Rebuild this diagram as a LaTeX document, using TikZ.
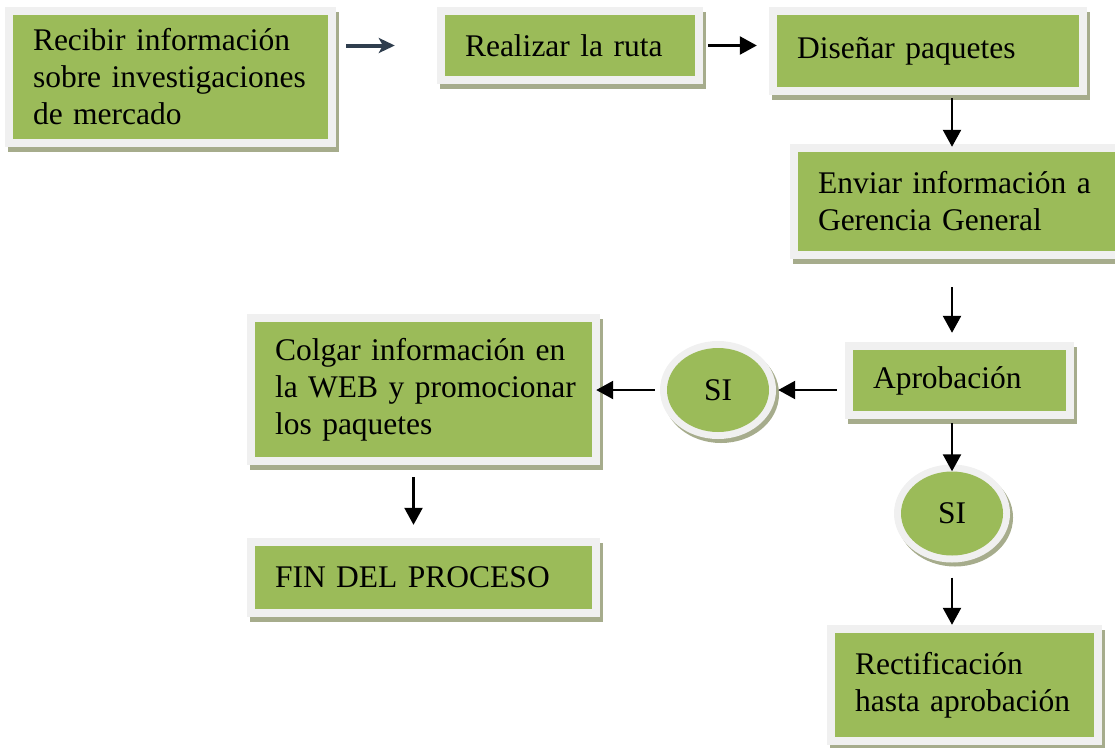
\documentclass[tikz,border=0pt]{standalone}
\usepackage{fontspec}
\setmainfont{Liberation Serif}
\usetikzlibrary{arrows.meta,shapes.geometric,shadows}

\definecolor{boxgreen}{HTML}{9BBB59}
\definecolor{framegray}{HTML}{F0F0F0}
\definecolor{shadowgray}{RGB}{166,172,140}
\definecolor{slate}{HTML}{2F3E4E}

\begin{document}
\begin{tikzpicture}[x=1pt, y=-1pt, >={Triangle[length=17pt,width=18pt]},
    every node/.style={font=\fontsize{31.5}{37}\selectfont},
    box/.style 2 args={rectangle, fill=boxgreen, align=left,
      inner xsep=20pt, inner ysep=0pt, text width=#1-40pt, minimum height=#2,
      drop shadow={shadow xshift=3pt, shadow yshift=-5pt, opacity=1,
        fill=shadowgray, draw=shadowgray, line width=16pt},
      preaction={draw=framegray, line width=16pt}},
    answer/.style={ellipse, fill=boxgreen, inner sep=0pt,
      minimum width=102pt, minimum height=84pt,
      drop shadow={shadow xshift=3pt, shadow yshift=-4pt, opacity=1,
        fill=shadowgray, draw=shadowgray, line width=14pt},
      preaction={draw=framegray, line width=14pt}},
    link/.style={line width=2.4pt}]
      \useasboundingbox (0,0) rectangle (1115,747);
      \node[box={315pt}{124pt}] at (170.5, 77)   (rec)  {Recibir información\\ \mbox{sobre investigaciones}\\ de mercado};
      \node[box={250pt}{61pt}]  at (570, 45.5)   (ruta) {Realizar la ruta};
      \node[box={302pt}{72pt}]  at (928, 51)     (dis)  {Diseñar paquetes};
      \node[box={327pt}{99pt}]  at (961.5, 201.5) (env) {Enviar información a\\ Gerencia General};
      \node[box={213pt}{61pt}]  at (959.5, 380.5) (apr) {Aprobación};
      \node[answer]             at (718, 390)    (si1)  {SI};
      \node[answer]             at (952, 513.5)  (si2)  {SI};
      \node[box={337pt}{135pt}] at (423.5, 389.5) (col) {Colgar información en\\ \mbox{la WEB y promocionar}\\ los paquetes};
      \node[box={337pt}{63pt}]  at (423.5, 577.5) (fin) {FIN DEL PROCESO};
      \node[box={259pt}{104pt}] at (964.5, 685)  (rect) {Rectificación\\ \mbox{hasta aprobación}};
      \path[draw,-{Stealth[length=16pt,width=15pt,inset=4pt]},draw=slate,line width=4pt,
        shorten <=18pt,shorten >=50pt] (rec.east |- ruta.west) -- (ruta.west);
      \path[draw,->,link,shorten <=13pt,shorten >=20pt] (ruta.east) -- (ruta.east -| dis.west);
      \path[draw,->,link,shorten <=11pt,shorten >=5pt] (dis.south -| si2) -- (env.north -| si2);
      \path[draw,->,link,shorten <=36pt,shorten >=17pt] (env.south -| si2) -- (apr.north -| si2);
      \path[draw,->,link,shorten <=16pt,shorten >=9pt] (apr.west |- si1) -- (si1.east);
      \path[draw,->,link,shorten <=12pt,shorten >=4pt] (si1.west) -- (si1.west -| col.east);
      \path[draw,->,link,shorten <=12pt] (apr.south -| si2) -- (si2.north);
      \path[draw,->,link,shorten <=22pt,shorten >=8pt] (si2.south) -- (rect.north -| si2);
      \path[draw,->,link,shorten <=20pt,shorten >=21pt] ([xshift=-10pt]col.south) -- ([xshift=-10pt]fin.north);
    \end{tikzpicture}
\end{document}
